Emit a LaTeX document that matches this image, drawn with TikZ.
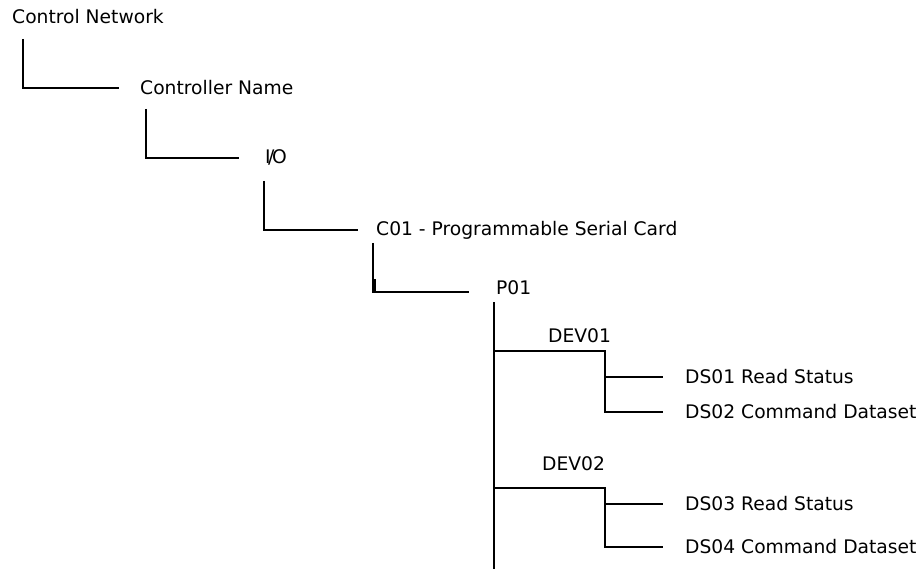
\documentclass[tikz,border=0pt]{standalone}
\usepackage{fontspec}
\setmainfont{DejaVu Sans}
\usetikzlibrary{positioning, calc}

\begin{document}
\begin{tikzpicture}[
    x=1pt, y=-1pt,
    entry/.style={anchor=west, inner sep=0pt, text height=13pt, text depth=0pt,
                  font=\fontsize{18.7}{20}\selectfont},
    link/.style={line width=1.6pt, black},
  ]
    \useasboundingbox (0,0) rectangle (923,569);

    % Hierarchy levels
    \node[entry] (net)  at (12,17)  {Control Network};
    \node[entry] (ctrl) at (140,88) {Controller Name};
    \node[entry] (io)   at (265,157) {I\kern-2.5pt/\kern-2.5pt O};
    \node[entry] (card) at (376,229) {C01 - Programmable Serial Card};
    \node[entry] (port) at (496,288) {P01};

    % Devices and datasets
    \node[entry] (dev1) at (548,336) {DEV01};
    \node[entry] (ds1)  at (685,377) {DS01 Read Status};
    \node[entry] (ds2)  at (685,412) {DS02 Command Dataset};
    \node[entry] (dev2) at (542,464) {DEV02};
    \node[entry] (ds3)  at (685,504) {DS03 Read Status};
    \node[entry] (ds4)  at (685,547) {DS04 Command Dataset};

    % Elbow connectors
    \draw[link] ($(net.west)+(11,22)$) |- ($(ctrl.west)+(-21,0)$);
    \draw[link] ($(ctrl.west)+(6,21)$) |- ($(io.west)+(-26,1)$);
    \draw[link] ($(io.west)+(-1,24)$) |- ($(card.west)+(-18,1)$);
    \draw[link] ($(card.west)+(-3,14)$) |- ($(port.west)+(-27,4)$);
    \draw[line width=3pt] ($(card.west)+(-2,50)$) -- ($(card.west)+(-2,63)$);

    % Port trunk
    \coordinate (trunkend) at (494,569);
    \draw[link] ($(port.west)+(-2,14)$) -- (trunkend);

    \coordinate (fork1) at (605,351);
    \draw[link] (fork1 -| trunkend) -- (fork1) |- ($(ds2.west)+(-22,0)$);
    \draw[link] (fork1 |- ds1.west) -- ($(ds1.west)+(-22,0)$);

    \coordinate (fork2) at (605,488);
    \draw[link] (fork2 -| trunkend) -- (fork2) |- ($(ds4.west)+(-22,0)$);
    \draw[link] (fork2 |- ds3.west) -- ($(ds3.west)+(-22,0)$);
  \end{tikzpicture}
\end{document}
